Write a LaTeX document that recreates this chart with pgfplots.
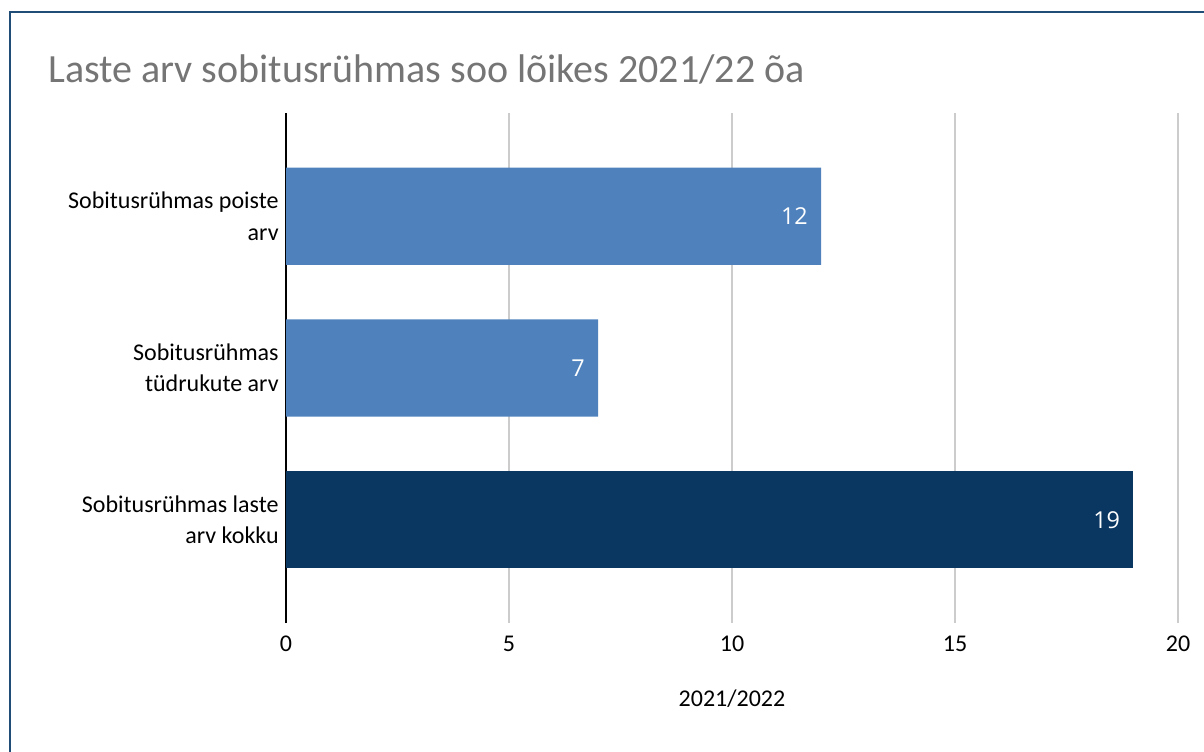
\documentclass[border=0pt]{standalone}
\usepackage{pgfplots}
\pgfplotsset{compat=1.18}
\usepackage{fontspec}
\setmainfont{Carlito}
\newfontfamily\valfont{Open Sans}
\definecolor{barblue}{HTML}{4F81BD}
\definecolor{bardark}{HTML}{0A3761}
\definecolor{framecol}{HTML}{1F4D78}
\definecolor{titlegray}{HTML}{757575}
\definecolor{gridgray}{HTML}{CCCCCC}

\begin{document}
\begin{tikzpicture}
\useasboundingbox (0,0) rectangle (903pt,-563.25pt);
\clip (0,0) rectangle (903pt,-563.25pt);
\begin{scope}[x=0.75pt,y=-0.75pt]
  \draw[framecol, line width=2pt] (10,12) rectangle (1240,790);
  \node[anchor=base west, inner sep=0pt, text=titlegray,
        font=\fontsize{30}{36}\selectfont] at (48,82)
        {Laste arv sobitusrühmas soo lõikes 2021/22 õa};
\end{scope}
\begin{axis}[
  at={({0.75*286pt},{-0.75*623pt})}, anchor=south west,
  scale only axis, width=669pt, height=382.5pt,
  xbar, bar width=0.64,
  xmin=0, xmax=20, ymin=-0.68, ymax=2.68,
  xtick={0,5,10,15,20},
  ytick={0,1,2},
  yticklabels={{Sobitusrühmas laste\\arv kokku},{Sobitusrühmas\\tüdrukute arv},{Sobitusrühmas poiste\\arv}},
  axis y line*=left, axis x line*=bottom,
  x axis line style={draw=none},
  y axis line style={black, line width=0.9pt, -},
  major tick length=0pt,
  xmajorgrids, grid style={gridgray, line width=0.9pt},
  /pgf/number format/assume math mode=true,
  tick label style={font=\fontsize{18}{23.5}\selectfont},
  yticklabel style={align=right, xshift=-2pt},
  xticklabel style={yshift=-6pt},
  xlabel={2021/2022},
  xlabel style={font=\fontsize{18}{22}\selectfont, yshift=-22pt},
  nodes near coords,
  every node near coord/.append style={anchor=east, xshift=-6.5pt, text=white,
        font=\valfont\fontsize{17.5}{20}\selectfont},
]
\addplot[fill=barblue, draw=none, bar shift=0pt] coordinates {(12,2) (7,1)};
\addplot[fill=bardark, draw=none, bar shift=0pt] coordinates {(19,0)};
\end{axis}
\end{tikzpicture}
\end{document}
